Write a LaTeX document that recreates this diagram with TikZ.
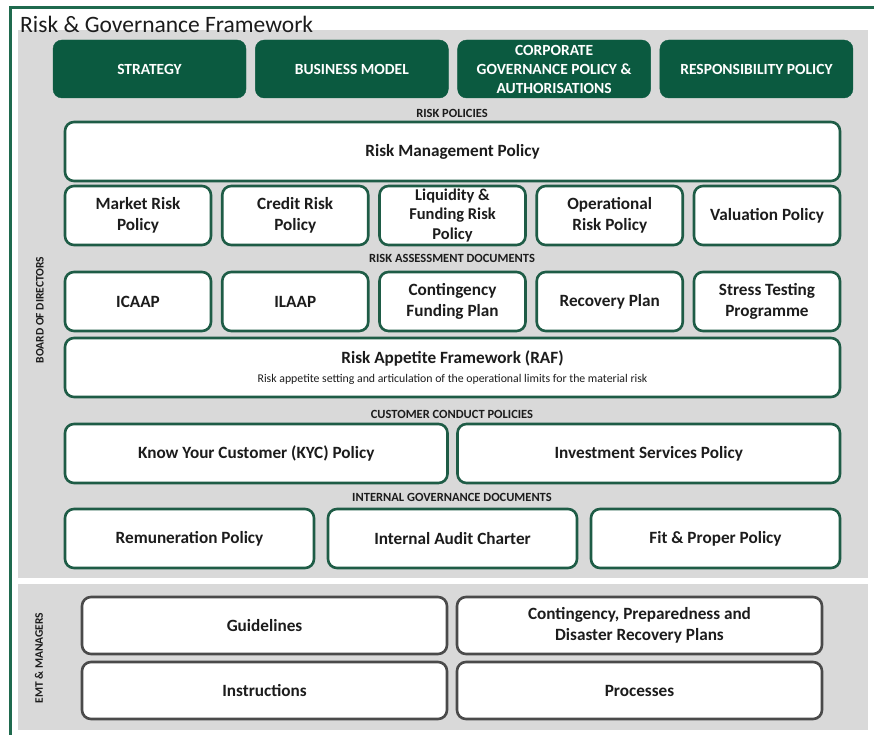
\documentclass[tikz,border=0pt]{standalone}
\usepackage{fontspec}
\setmainfont{Carlito}
\usepackage{tikz}
\usetikzlibrary{positioning}
\definecolor{rgdark}{HTML}{0B5A40}
\definecolor{rgline}{HTML}{1E5C46}
\definecolor{rgframe}{HTML}{1F6A4E}
\definecolor{rggray}{HTML}{D9D9D9}
\definecolor{rgmgr}{HTML}{4A4A4A}
\definecolor{rgtext}{HTML}{1C1C1C}

\begin{document}
\begin{tikzpicture}[x=1pt,y=-1pt,
    topbox/.style={fill=rgdark,draw=rgdark,rounded corners=9pt,text=white,align=center,outer sep=0pt,
      font=\fontsize{15.5}{19}\selectfont\bfseries,minimum width=193pt,minimum height=58pt,inner sep=2pt},
    polbox/.style={fill=white,draw=rgline,line width=2.6pt,rounded corners=9pt,text=rgtext,align=center,outer sep=0pt,
      font=\fontsize{17.2}{21.5}\selectfont\bfseries,minimum height=59pt,inner sep=2pt},
    mgrbox/.style={polbox,draw=rgmgr,minimum width=365pt,minimum height=57pt},
    headlbl/.style={text=rgtext,font=\fontsize{12.5}{14}\selectfont\bfseries,inner sep=1pt},
    sidelbl/.style={text=rgtext,font=\fontsize{11.5}{13}\selectfont\bfseries,rotate=90,inner sep=1pt}]
  \useasboundingbox (0,0) rectangle (874,735);
  % background panels and frame
  \fill[rggray] (18,30) rectangle (868,578);
  \fill[rggray] (18,584) rectangle (868,730);
  \draw[rgframe,line width=3pt] (874,8) -- (10,8) -- (10,735);
  \node[anchor=base west,inner sep=0pt,text=rgtext,font=\fontsize{23.5}{27}\selectfont] (title) at (20,33) {Risk \& Governance Framework};
  \node[sidelbl] (board) at (40,310) {BOARD OF DIRECTORS};
  \node[sidelbl] (emt) at (39,658) {EMT \& MANAGERS};

  % top row
  \node[topbox,anchor=north west] (strategy) at (53,40) {STRATEGY};
  \node[topbox,right=9.3pt of strategy] (busmodel) {BUSINESS MODEL};
  \node[topbox,right=9.3pt of busmodel] (corpgov) {CORPORATE\\GOVERNANCE POLICY \&\\AUTHORISATIONS};
  \node[topbox,right=9.3pt of corpgov] (respons) {RESPONSIBILITY POLICY};

  % risk policies
  \node[headlbl] (hdpol) at (452,113) {RISK POLICIES};
  \node[polbox,anchor=north west,minimum width=775pt] (rmp) at (65,122) {Risk Management Policy};
  \node[polbox,anchor=north west,minimum width=146pt] (market) at (65,186) {Market Risk\\Policy};
  \node[polbox,minimum width=146pt,right=11.25pt of market] (credit) {Credit Risk\\Policy};
  \node[polbox,minimum width=146pt,right=11.25pt of credit,font=\fontsize{16.5}{19.5}\selectfont\bfseries] (liquid) {Liquidity \&\\Funding Risk\\Policy};
  \node[polbox,minimum width=146pt,right=11.25pt of liquid] (operat) {Operational\\Risk Policy};
  \node[polbox,minimum width=146pt,right=11.25pt of operat] (valuat) {Valuation Policy};

  % risk assessment documents
  \node[headlbl] (hdass) at (452,258) {RISK ASSESSMENT DOCUMENTS};
  \node[polbox,anchor=north west,minimum width=146pt] (icaap) at (65,272) {ICAAP};
  \node[polbox,minimum width=146pt,right=11.25pt of icaap] (ilaap) {ILAAP};
  \node[polbox,minimum width=146pt,right=11.25pt of ilaap] (contfund) {Contingency\\Funding Plan};
  \node[polbox,minimum width=146pt,right=11.25pt of contfund] (recovery) {Recovery Plan};
  \node[polbox,minimum width=146pt,right=11.25pt of recovery] (stress) {Stress Testing\\Programme};
  \node[polbox,anchor=north west,minimum width=775pt] (raf) at (65,338) {Risk Appetite Framework (RAF)\\[-3pt]
    {\fontsize{11.8}{13}\selectfont\mdseries Risk appetite setting and articulation of the operational limits for the material risk}};

  % customer conduct policies
  \node[headlbl] (hdcust) at (452,414) {CUSTOMER CONDUCT POLICIES};
  \node[polbox,anchor=north west,minimum width=382.5pt] (kyc) at (65,424) {Know Your Customer (KYC) Policy};
  \node[polbox,minimum width=382.5pt,right=10pt of kyc] (invest) {Investment Services Policy};

  % internal governance documents
  \node[headlbl] (hdgov) at (452,497) {INTERNAL GOVERNANCE DOCUMENTS};
  \node[polbox,anchor=north west,minimum width=249pt] (remun) at (65,509) {Remuneration Policy};
  \node[polbox,minimum width=249pt,right=14pt of remun] (audit) {Internal Audit Charter};
  \node[polbox,minimum width=249pt,right=14pt of audit] (fitprop) {Fit \& Proper Policy};

  % EMT & managers
  \node[mgrbox,anchor=north west] (guide) at (82,597) {Guidelines};
  \node[mgrbox,right=10pt of guide] (disaster) {Contingency, Preparedness and\\Disaster Recovery Plans};
  \node[mgrbox,anchor=north west] (instr) at (82,662) {Instructions};
  \node[mgrbox,right=10pt of instr] (process) {Processes};
\end{tikzpicture}
\end{document}
